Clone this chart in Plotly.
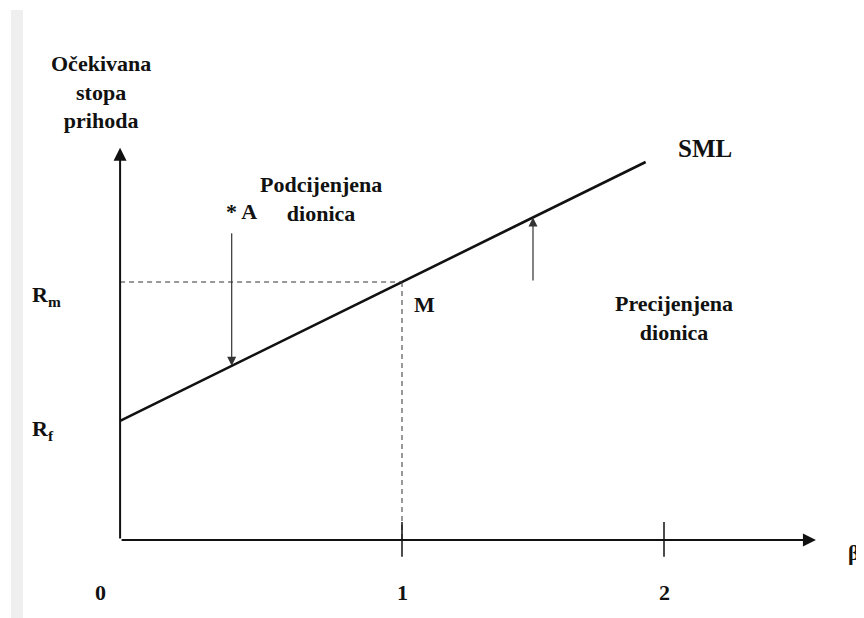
import plotly.graph_objects as go

# ---- data ----
beta_ticks = [0, 1, 2]
beta_tick_labels = ["0", "1", "2"]
Rf = 1.0              # risk-free rate (y units)
Rm = 2.0              # market return (y units)
origin_beta = -0.076  # where the drawn axes cross
axis_beta_end = 2.58
axis_ret_end = 3.04
sml_beta = [origin_beta, 1.93]
A_beta, A_ret = 0.35, 2.39         # underpriced stock A
over_beta, over_ret = 1.5, 2.0     # overpriced stock

def sml(b):
    return Rf + (Rm - Rf) * b

FONT = "Liberation Serif, Times New Roman, serif"
INK = "#111111"
W, H = 864, 618
X0PX, Y0PX = 132, 532   # pixel position of beta=0 / return=0 inside the figure
XS, YS = 262, 129       # pixels per unit

fig = go.Figure()

# SML
fig.add_trace(go.Scatter(x=sml_beta, y=[sml(b) for b in sml_beta], mode="lines",
                         line=dict(color=INK, width=2.6), hoverinfo="skip"))
# dashed guides to M
fig.add_trace(go.Scatter(x=[origin_beta, 1], y=[Rm, Rm], mode="lines",
                         line=dict(color="#333", width=1, dash="5px,4px"), hoverinfo="skip"))
fig.add_trace(go.Scatter(x=[1, 1], y=[Rm, 0], mode="lines",
                         line=dict(color="#333", width=1, dash="5px,4px"), hoverinfo="skip"))
# tick marks on beta axis
for b in beta_ticks[1:]:
    fig.add_trace(go.Scatter(x=[b, b], y=[0.14, -0.13], mode="lines",
                             line=dict(color=INK, width=1.5), hoverinfo="skip"))

anns = []
# axes with arrowheads
anns.append(dict(x=origin_beta, y=axis_ret_end, ax=origin_beta, ay=0, xref="x", yref="y",
                 axref="x", ayref="y", showarrow=True, arrowhead=2, arrowsize=1.3,
                 arrowwidth=2, arrowcolor=INK, text=""))
anns.append(dict(x=axis_beta_end, y=0, ax=origin_beta, ay=0, xref="x", yref="y",
                 axref="x", ayref="y", showarrow=True, arrowhead=2, arrowsize=1.3,
                 arrowwidth=2, arrowcolor=INK, text=""))
# arrow from A down to SML
anns.append(dict(x=A_beta, y=sml(A_beta), ax=A_beta, ay=A_ret, xref="x", yref="y",
                 axref="x", ayref="y", showarrow=True, arrowhead=2, arrowsize=1.5,
                 arrowwidth=1.2, arrowcolor="#333", text=""))
# arrow up from overpriced to SML
anns.append(dict(x=over_beta, y=sml(over_beta), ax=over_beta, ay=over_ret, xref="x", yref="y",
                 axref="x", ayref="y", showarrow=True, arrowhead=2, arrowsize=1.5,
                 arrowwidth=1.2, arrowcolor="#333", text=""))

def txt(text, x, y, size=22, xanchor="center", yanchor="middle", xref="x", yref="y",
        xshift=0, yshift=0):
    anns.append(dict(text=text, x=x, y=y, xref=xref, yref=yref, showarrow=False,
                     xanchor=xanchor, yanchor=yanchor, xshift=xshift, yshift=yshift,
                     font=dict(family=FONT, size=size, color=INK)))

# tick labels
for b, lab in zip(beta_ticks, beta_tick_labels):
    txt("<b>%s</b>" % lab, b, 0, xshift=(-40 if b == 0 else 0), yshift=-52)

txt("<b>Očekivana<br>stopa<br>prihoda</b>", -0.149, 3.47)
txt("<b>R<sub>m</sub></b>", 22 / W, Rm, xref="paper", xanchor="left", yshift=-14)
txt("<b>R<sub>f</sub></b>", 22 / W, Rf, xref="paper", xanchor="left", yshift=-19)
txt("<b>M</b>", 1, Rm, xshift=22, yshift=-22)
txt("<b>SML</b>", 1.93, sml(1.93), xshift=59, yshift=14, size=25)
txt("<b>* A</b>", A_beta, A_ret, xshift=10, yshift=20)
txt("<b>Podcijenjena<br>dionica</b>", 0.69, 2.64)
txt("<b>Precijenjena<br>dionica</b>", 2.04, 1.72)
txt("<b>β</b>", 838 / W, -0.1, xref="paper", xanchor="left")

fig.update_layout(
    width=W, height=H, margin=dict(l=0, r=0, t=0, b=0),
    paper_bgcolor="white", plot_bgcolor="white", showlegend=False,
    xaxis=dict(range=[-X0PX / XS, -X0PX / XS + W / XS], visible=False, fixedrange=True),
    yaxis=dict(range=[-(H - Y0PX) / YS, -(H - Y0PX) / YS + H / YS], visible=False, fixedrange=True),
    annotations=anns,
    shapes=[dict(type="rect", xref="paper", yref="paper", x0=3 / W, x1=15 / W,
                 y0=0, y1=616 / H, fillcolor="#efefef", line=dict(width=0), layer="below")],
)

fig.write_html("out.html")
